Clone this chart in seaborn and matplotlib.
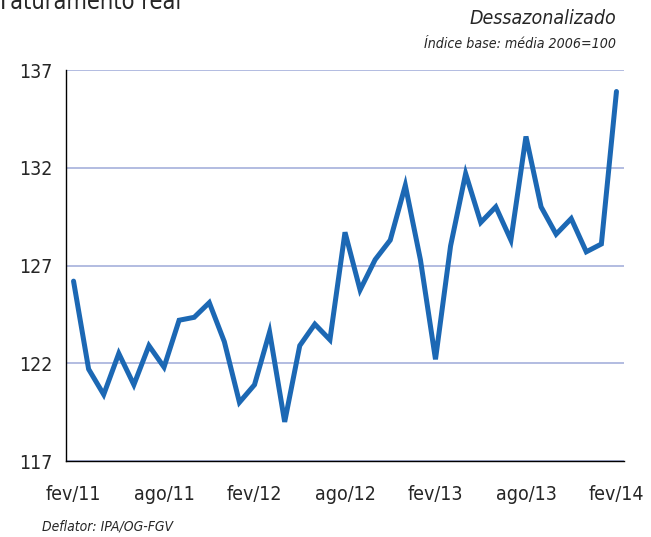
import matplotlib
matplotlib.use('Agg')
import matplotlib.pyplot as plt
import seaborn as sns
import pandas as pd
import numpy as np

# monthly index, fev/11 .. fev/14
meses = ['fev/11', 'mar/11', 'abr/11', 'mai/11', 'jun/11', 'jul/11',
         'ago/11', 'set/11', 'out/11', 'nov/11', 'dez/11', 'jan/12',
         'fev/12', 'mar/12', 'abr/12', 'mai/12', 'jun/12', 'jul/12',
         'ago/12', 'set/12', 'out/12', 'nov/12', 'dez/12', 'jan/13',
         'fev/13', 'mar/13', 'abr/13', 'mai/13', 'jun/13', 'jul/13',
         'ago/13', 'set/13', 'out/13', 'nov/13', 'dez/13', 'jan/14',
         'fev/14']
indice = [126.2, 121.7, 120.4, 122.5, 120.9, 122.9, 121.8, 124.2, 124.35,
          125.1, 123.1, 120.0, 120.9, 123.6, 119.0, 122.9, 124.0, 123.2,
          128.7, 125.75, 127.3, 128.3, 131.1, 127.3, 122.2, 128.0, 131.7,
          129.2, 130.0, 128.3, 133.6, 130.0, 128.6, 129.4, 127.7, 128.1,
          135.9]
yticks = [117, 122, 127, 132, 137]

df = pd.DataFrame({'pos': np.arange(len(meses)), 'mes': meses, 'indice': indice})

sns.set_style('white')
plt.rcParams['font.family'] = ['DejaVu Sans']
plt.rcParams['font.stretch'] = 'condensed'

fig = plt.figure(figsize=(6.51, 5.37), dpi=100)
ax = fig.add_axes([66/651, 1 - 461/537, (624-66)/651, (461-70)/537])

sns.lineplot(data=df, x='pos', y='indice', ax=ax, color='#1c68b4',
             linewidth=3.6, solid_joinstyle='miter')

ax.set_xlim(-0.5, len(meses) - 0.5)
ax.set_ylim(117, 137)
ax.set_yticks(yticks)
ax.set_yticklabels([str(v) for v in yticks], fontsize=14)
ax.yaxis.grid(True, color='#9eaad8', linewidth=1.1)
ax.set_axisbelow(True)

# tick marks between categories, labels centred on the month
ax.set_xticks(np.arange(-0.5, len(meses), 6))
ax.set_xticklabels([])
ax.set_xticks(np.arange(0, len(meses), 6), minor=True)
ax.set_xticklabels(meses[::6], minor=True, fontsize=14)
ax.tick_params(axis='x', which='major', direction='out', length=5, width=1, color='black')
ax.tick_params(axis='x', which='minor', length=0, pad=17)
ax.tick_params(axis='y', direction='out', length=5, width=1, color='black', pad=5)

for s in ['top', 'right']:
    ax.spines[s].set_visible(False)
for s in ['left', 'bottom']:
    ax.spines[s].set_color('black')
    ax.spines[s].set_linewidth(1)

ax.set_xlabel('')
ax.set_ylabel('')

fig.text(0.0, 1 - 2/537, 'Faturamento real', fontsize=17, ha='left', va='center')
fig.text(616/651, 1 - 19/537, 'Dessazonalizado', fontsize=14, style='italic',
         ha='right', va='center')
fig.text(616/651, 1 - 44/537, 'Índice base: média 2006=100', fontsize=10.2,
         style='italic', ha='right', va='center')
fig.text(42/651, 1 - 527/537, 'Deflator: IPA/OG-FGV', fontsize=10,
         style='italic', ha='left', va='center')

fig.savefig('out.png', dpi=100)
